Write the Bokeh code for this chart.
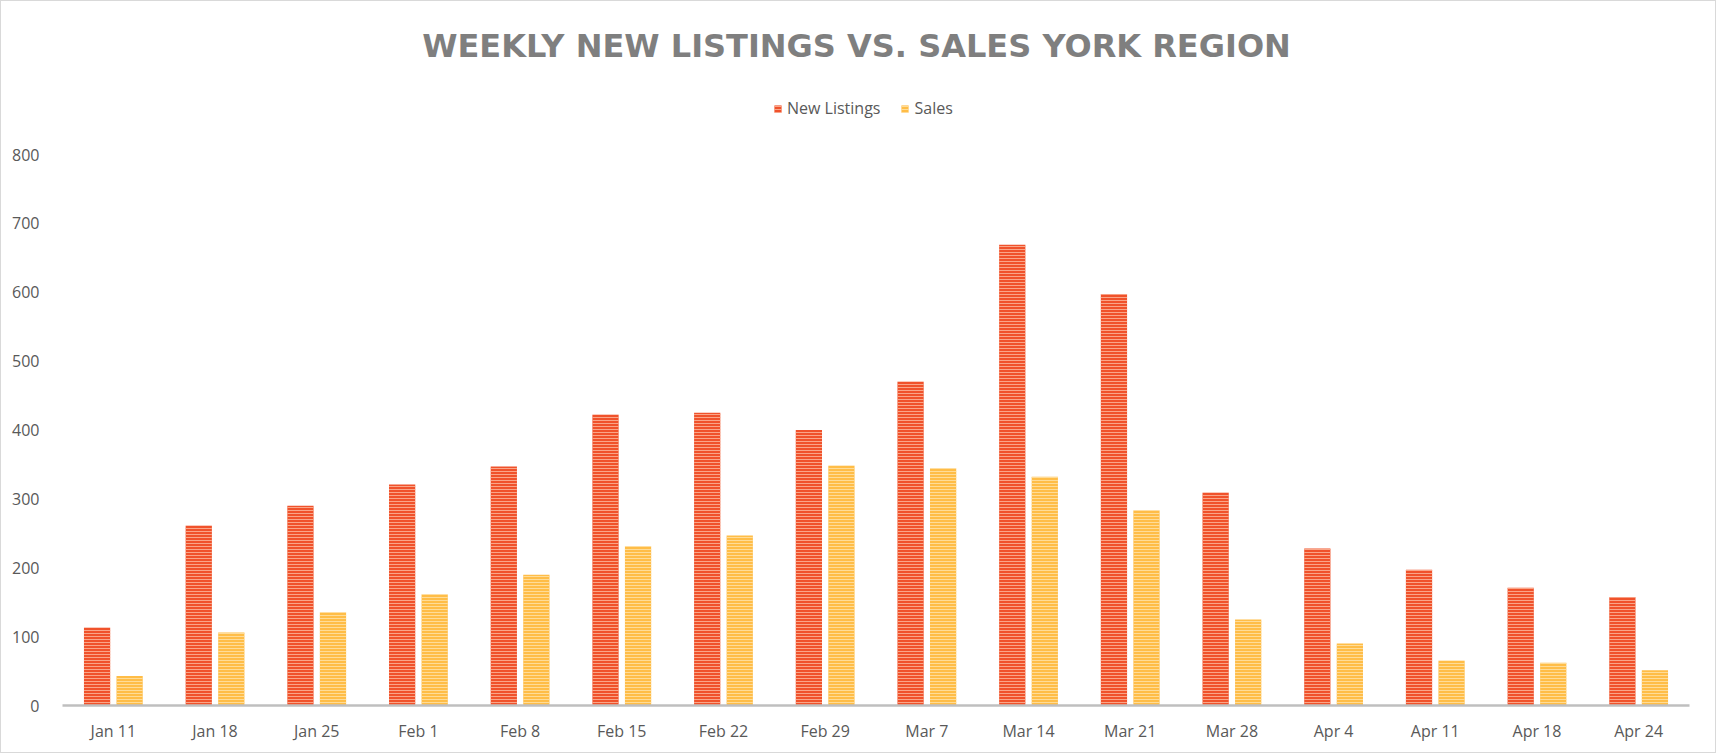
from bokeh.plotting import figure
from bokeh.models import FactorRange, Label, Legend, LegendItem, ColumnDataSource, Range1d
from bokeh.transform import dodge
from bokeh.embed import file_html
from bokeh.resources import INLINE

weeks = ["Jan 11", "Jan 18", "Jan 25", "Feb 1", "Feb 8", "Feb 15", "Feb 22", "Feb 29",
         "Mar 7", "Mar 14", "Mar 21", "Mar 28", "Apr 4", "Apr 11", "Apr 18", "Apr 24"]
new_listings = [113, 261, 290, 321, 347, 422, 425, 400, 470, 669, 597, 309, 228, 197, 171, 157]
sales = [43, 106, 135, 161, 190, 231, 247, 348, 344, 332, 283, 125, 90, 65, 62, 51]
y_ticks = [0, 100, 200, 300, 400, 500, 600, 700, 800]

title_text = "WEEKLY NEW LISTINGS VS. SALES YORK REGION"
FONT = "Open Sans"
RED = "#F0522B"
YELLOW = "#FFBD47"

# frame spans the whole height above the x axis; value 800 sits 153px below the top
FRAME_H = 704
Y_TOP = 800 * FRAME_H / 551

src = ColumnDataSource(dict(week=weeks, nl=new_listings, sales=sales))

p = figure(width=1716, height=753, x_range=FactorRange(*weeks, range_padding=0),
           y_range=Range1d(0, Y_TOP), output_backend="svg", toolbar_location=None,
           min_border_left=61, min_border_right=28, min_border_top=0, min_border_bottom=49)
p.styles = {"border": "1px solid #D9D9D9"}
p.outline_line_color = None
p.background_fill_color = "white"
p.border_fill_color = "white"

r1 = p.vbar(x=dodge("week", -0.16, range=p.x_range), top="nl", width=0.258, source=src,
            fill_color=RED, line_color=None, hatch_pattern="horizontal_line",
            hatch_color="#FBAE92", hatch_scale=3, hatch_weight=1, hatch_alpha=0.9)
r2 = p.vbar(x=dodge("week", 0.16, range=p.x_range), top="sales", width=0.258, source=src,
            fill_color=YELLOW, line_color=None, hatch_pattern="horizontal_line",
            hatch_color="#FFDFA0", hatch_scale=3, hatch_weight=1, hatch_alpha=0.9)

p.xgrid.visible = False
p.ygrid.visible = False

p.yaxis.ticker = y_ticks
p.yaxis.axis_line_color = None
p.yaxis.major_tick_line_color = None
p.yaxis.minor_tick_line_color = None
p.yaxis.major_label_text_font = FONT
p.yaxis.major_label_text_font_size = "16px"
p.yaxis.major_label_text_color = "#595959"
p.yaxis.major_label_standoff = 17

p.xaxis.axis_line_color = "#BFBFBF"
p.xaxis.axis_line_width = 2.5
p.xaxis.major_tick_line_color = None
p.xaxis.minor_tick_line_color = None
p.xaxis.major_label_text_font = FONT
p.xaxis.major_label_text_font_size = "16px"
p.xaxis.major_label_text_color = "#595959"
p.xaxis.major_label_standoff = 8

title = Label(x=794, y=660, x_units="screen", y_units="screen", text=title_text,
              text_font="DejaVu Sans", text_font_style="bold", text_font_size="32px",
              text_color="#7F7F7F", text_align="center", text_baseline="middle")
p.add_layout(title)

legend = Legend(items=[LegendItem(label="New Listings", renderers=[r1]),
                       LegendItem(label="Sales", renderers=[r2])],
                location=(711, 586), orientation="horizontal",
                label_text_font=FONT, label_text_font_size="16px", label_text_color="#595959",
                glyph_width=9, glyph_height=9, label_height=16, label_standoff=5,
                spacing=20, padding=0, margin=0, border_line_color=None,
                background_fill_alpha=0)
p.add_layout(legend, "center")

open("out.html", "w").write(file_html(p, INLINE))
